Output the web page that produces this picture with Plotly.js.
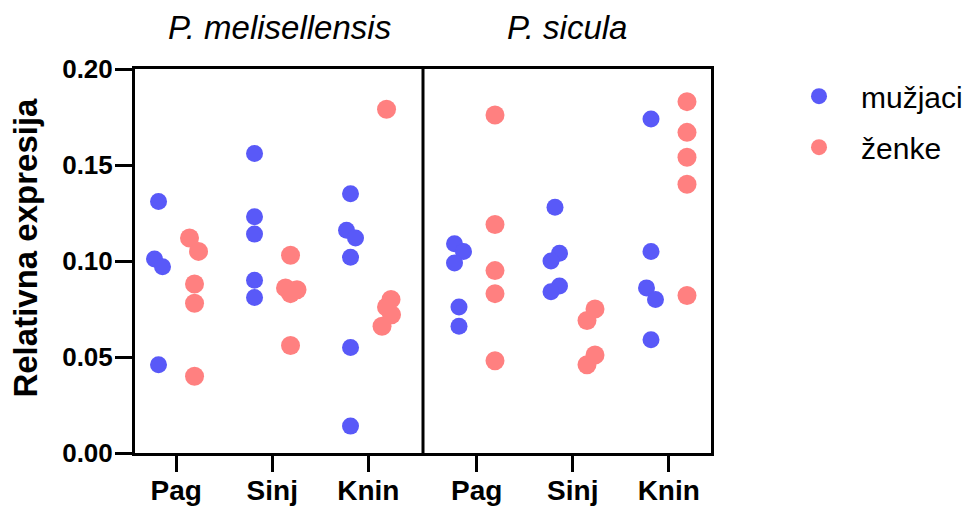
<!DOCTYPE html>
<html>
<head>
<meta charset="utf-8">
<script src="https://cdn.plot.ly/plotly-3.0.1.min.js"></script>
<style>html,body{margin:0;padding:0;background:#fff;}#chart{width:974px;height:506px;}</style>
</head>
<body>
<div id="chart"></div>
<script>
// ---- data ----
const sites = ['Pag', 'Sinj', 'Knin'];
const species = ['P. melisellensis', 'P. sicula'];
const seriesNames = ['mužjaci', 'ženke'];

// P. melisellensis
const melMalesPag  = [0.131, 0.101, 0.097, 0.046];
const melFemalesPag = [0.112, 0.105, 0.088, 0.078, 0.040];
const melMalesSinj = [0.156, 0.123, 0.114, 0.090, 0.081];
const melFemalesSinj = [0.103, 0.086, 0.085, 0.083, 0.056];
const melMalesKnin = [0.135, 0.116, 0.112, 0.102, 0.055, 0.014];
const melFemalesKnin = [0.179, 0.080, 0.076, 0.072, 0.066];
// P. sicula
const sicMalesPag  = [0.109, 0.105, 0.099, 0.076, 0.066];
const sicFemalesPag = [0.176, 0.119, 0.095, 0.083, 0.048];
const sicMalesSinj = [0.128, 0.104, 0.100, 0.087, 0.084];
const sicFemalesSinj = [0.075, 0.069, 0.051, 0.046];
const sicMalesKnin = [0.174, 0.105, 0.086, 0.080, 0.059];
const sicFemalesKnin = [0.183, 0.167, 0.154, 0.140, 0.082];

const yTicks = [0, 0.05, 0.10, 0.15, 0.20];

// ---- layout / positioning (not data) ----
const groupPos = [0.43, 1.43, 2.43, 3.56, 4.56, 5.56]; // category centres on a 0..6 axis
const sexOffset = [-0.185, 0.19];
// horizontal scatter spread, in pixels, for overlapping points
const jitterM = [
  [0, -4, 4, 0], [0, 0, 0, 0, 0], [0, -4, 5, 0, 0, 0],
  [-4.5, 4.5, -4.5, 0, 0], [0, 4.5, -4, 4.5, -4], [0, 0, -4.5, 4.5, 0]
];
const jitterF = [
  [-5, 4, 0, 0, 0], [0, -5, 6.5, 0, 0], [0, 4.5, 0, 5, -4.5],
  [0, 0, 0, 0, 0], [4, -4, 4, -4], [0, 0, 0, 0, 0]
];
const pxPerUnit = 96;

const males = [melMalesPag, melMalesSinj, melMalesKnin, sicMalesPag, sicMalesSinj, sicMalesKnin];
const females = [melFemalesPag, melFemalesSinj, melFemalesKnin, sicFemalesPag, sicFemalesSinj, sicFemalesKnin];

function build(groups, sexIdx, jit) {
  const xs = [], ys = [];
  groups.forEach((vals, g) => {
    vals.forEach((v, i) => {
      xs.push(groupPos[g] + sexOffset[sexIdx] + (jit[g][i] || 0) / pxPerUnit);
      ys.push(v);
    });
  });
  return {x: xs, y: ys};
}

const m = build(males, 0, jitterM);
const f = build(females, 1, jitterF);

const FONT = 'Liberation Sans, Arial, Helvetica, sans-serif';

const traces = [
  {type: 'scatter', mode: 'markers', name: seriesNames[0], x: m.x, y: m.y,
   marker: {color: '#5959F8', size: 17, line: {width: 0}}, legendgroup: 'a', cliponaxis: false},
  {type: 'scatter', mode: 'markers', name: seriesNames[1], x: f.x, y: f.y,
   marker: {color: '#FF8080', size: 19, line: {width: 0}}, legendgroup: 'b', cliponaxis: false}
];

const layout = {
  width: 974, height: 506,
  margin: {l: 135, r: 263, t: 69, b: 53, pad: 0, autoexpand: false},
  paper_bgcolor: '#fff', plot_bgcolor: '#fff',
  showlegend: true,
  legend: {x: 1.1146, xanchor: 'left', y: 0.997, yanchor: 'top',
           font: {family: FONT, size: 30, color: '#000'}, tracegroupgap: 9,
           itemwidth: 74, itemsizing: 'trace', bgcolor: 'rgba(0,0,0,0)'},
  xaxis: {
    range: [0, 6], showgrid: false, zeroline: false,
    tickmode: 'array', tickvals: groupPos, ticktext: sites.concat(sites),
    ticks: 'outside', ticklen: 16, tickwidth: 3, tickcolor: '#000',
    showline: true, linewidth: 3, linecolor: '#000', mirror: true,
    tickfont: {family: FONT, size: 28, color: '#000', weight: 'bold'},
    ticklabelstandoff: -6,
    fixedrange: true
  },
  yaxis: {
    range: [0, 0.2], showgrid: false, zeroline: false,
    tickmode: 'array', tickvals: yTicks, ticktext: yTicks.map(v => v.toFixed(2)),
    ticks: 'outside', ticklen: 17, tickwidth: 3, tickcolor: '#000',
    showline: true, linewidth: 3, linecolor: '#000', mirror: true,
    tickfont: {family: FONT, size: 26, color: '#000', weight: 'bold'},
    ticklabelstandoff: -3,
    fixedrange: true
  },
  shapes: [
    {type: 'line', xref: 'x', yref: 'paper', x0: 3, x1: 3, y0: 0, y1: 1,
     line: {color: '#000', width: 3}}
  ],
  annotations: [
    {text: species[0], xref: 'x', yref: 'paper', x: 1.5, y: 1, yanchor: 'middle', yshift: 42,
     showarrow: false, font: {family: FONT, size: 33, color: '#000', style: 'italic'}},
    {text: species[1], xref: 'x', yref: 'paper', x: 4.5, y: 1, yanchor: 'middle', yshift: 42,
     showarrow: false, font: {family: FONT, size: 33, color: '#000', style: 'italic'}},
    {text: 'Relativna expresija', xref: 'paper', yref: 'paper', x: 0, y: 0.535,
     xanchor: 'center', yanchor: 'middle', xshift: -109, textangle: -90,
     showarrow: false, font: {family: FONT, size: 33, color: '#000', weight: 'bold'}}
  ]
};

Plotly.newPlot('chart', traces, layout, {displayModeBar: false, staticPlot: true});
</script>
</body>
</html>
